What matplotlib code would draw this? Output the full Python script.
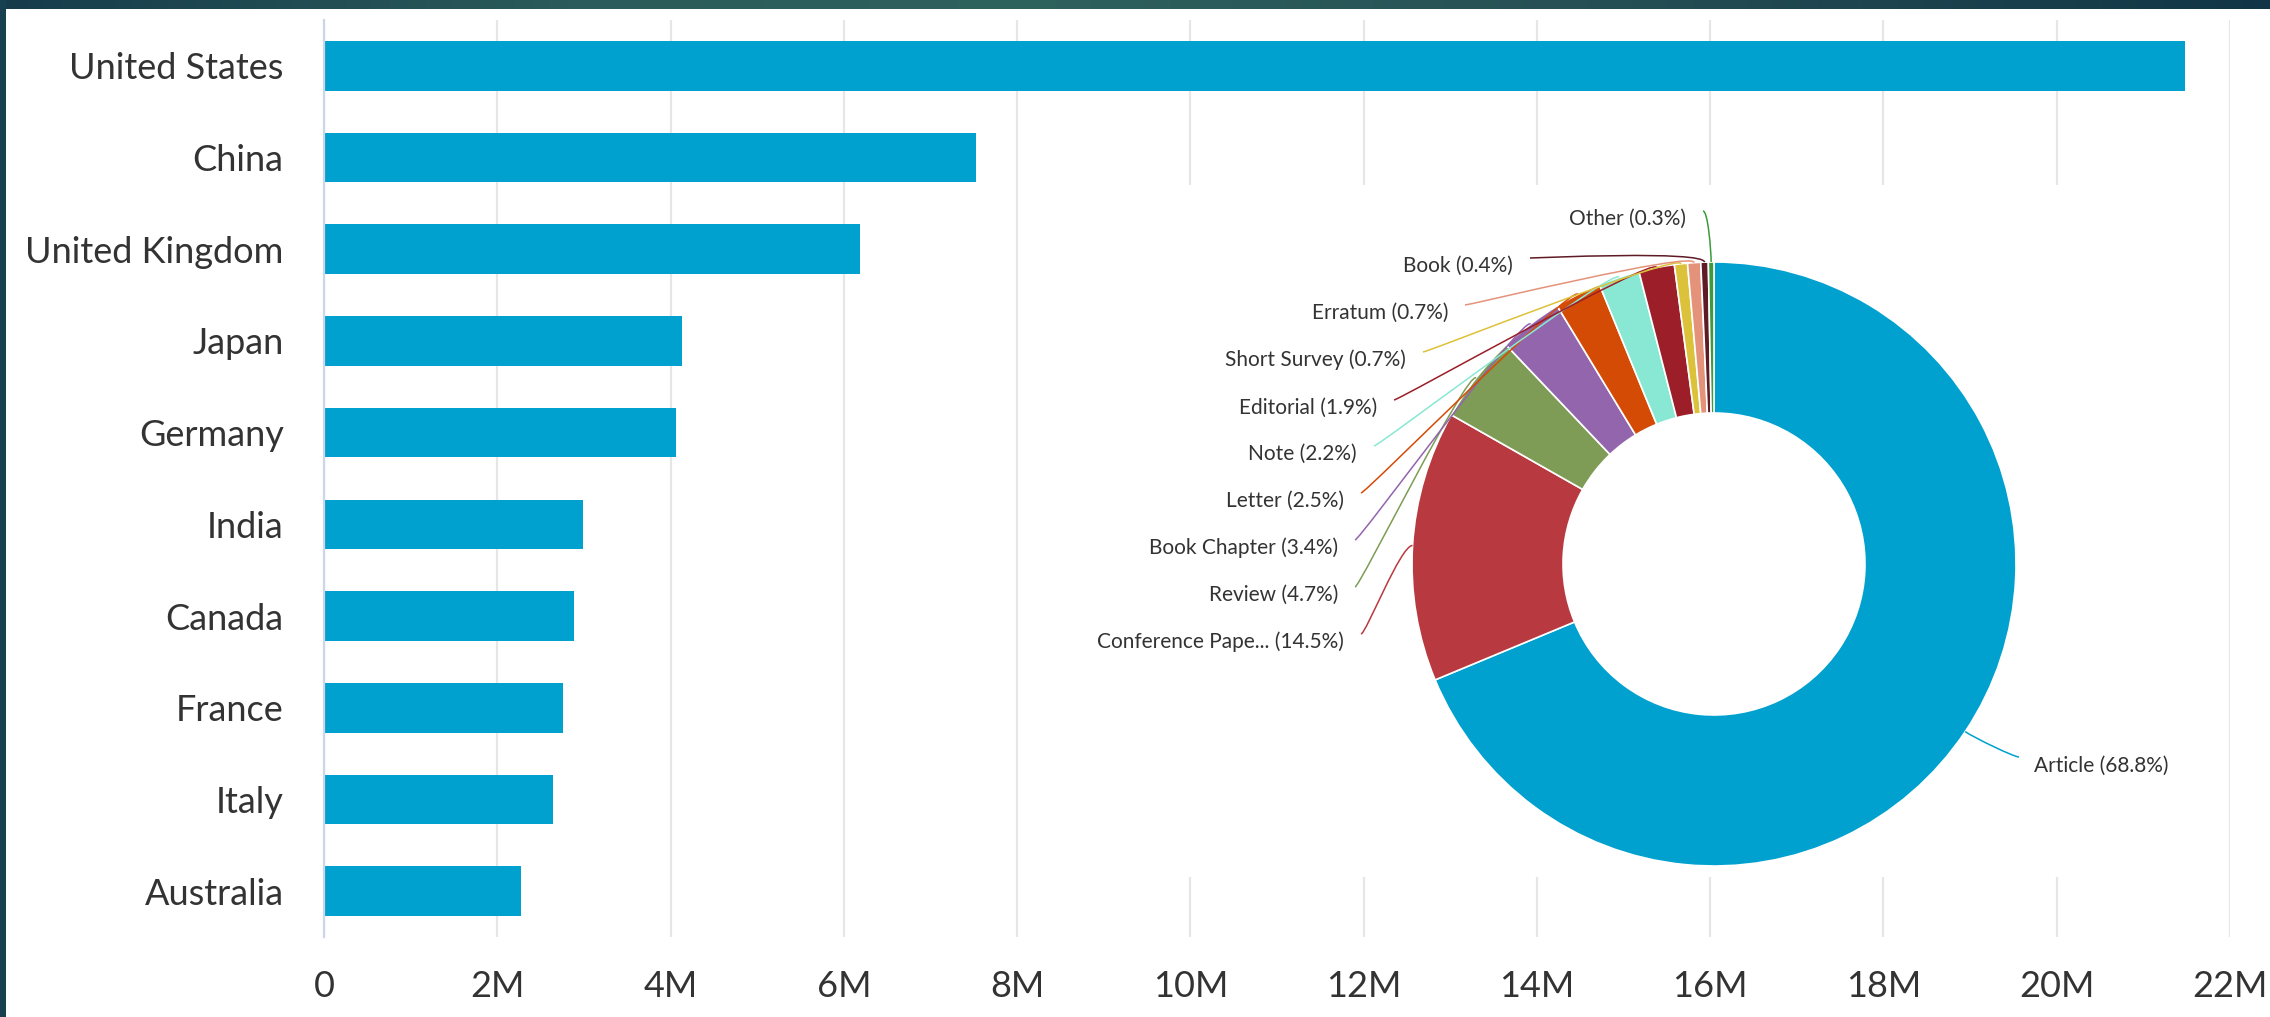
import numpy as np
import matplotlib.pyplot as plt
from matplotlib.patches import Rectangle, PathPatch
from matplotlib.path import Path
from matplotlib.colors import LinearSegmentedColormap
from matplotlib.ticker import FuncFormatter

plt.rcParams['font.family'] = ['Lato', 'DejaVu Sans']

# --- data -------------------------------------------------------------
countries = ['United States', 'China', 'United Kingdom', 'Japan', 'Germany',
             'India', 'Canada', 'France', 'Italy', 'Australia']
documents = [21.48e6, 7.52e6, 6.19e6, 4.13e6, 4.06e6,
             2.99e6, 2.89e6, 2.76e6, 2.64e6, 2.27e6]

doc_types = ['Article', 'Conference Pape...', 'Review', 'Book Chapter', 'Letter',
             'Note', 'Editorial', 'Short Survey', 'Erratum', 'Book', 'Other']
doc_shares = [68.8, 14.5, 4.7, 3.4, 2.5, 2.2, 1.9, 0.7, 0.7, 0.4, 0.3]

x_ticks = np.arange(0, 22e6 + 1, 2e6)

# --- style / layout ---------------------------------------------------
BLUE = '#00a0cf'
TEXT = '#333333'
doc_colors = [BLUE, '#b83a40', '#7e9c55', '#9365ad', '#d44b05', '#88e8d4',
              '#9b1e28', '#dcc23a', '#e4937a', '#5e1b25', '#3c9a3c']

W, H = 2270, 1017
# label connector start points (pixels, y from top)
label_anchor = [(2019, 757), (1361, 634), (1355, 587), (1355, 540), (1361, 493),
                (1374, 446), (1394, 400), (1423, 352), (1465, 305), (1530, 258),
                (1703, 211)]

fig = plt.figure(figsize=(W / 100, H / 100), dpi=100)
fig.patch.set_facecolor('white')

# bar chart
ax = fig.add_axes([324 / W, (H - 937) / H, (2230 - 324) / W, (937 - 20) / H])
ypos = np.arange(len(countries))
ax.barh(ypos, documents, height=0.54, color=BLUE, zorder=2)
ax.set_ylim(len(countries) - 0.5, -0.5)
ax.set_xlim(0, 22e6)
ax.set_xticks(x_ticks)
ax.xaxis.set_major_formatter(FuncFormatter(lambda v, p: '0' if v == 0 else f'{v / 1e6:.0f}M'))
ax.set_yticks(ypos)
ax.set_yticklabels(countries)
ax.tick_params(axis='both', length=0, labelsize=26, labelcolor=TEXT)
ax.tick_params(axis='y', pad=29)
ax.tick_params(axis='x', pad=24)
ax.grid(axis='x', color='#e6e6e6', linewidth=1.6)
ax.grid(axis='y', visible=False)
ax.set_axisbelow(True)
for s in ['top', 'right', 'bottom']:
    ax.spines[s].set_visible(False)
ax.spines['left'].set_color('#ccd6eb')
ax.spines['left'].set_linewidth(1.6)

# donut overlay (pixel coordinates)
ov = fig.add_axes([0, 0, 1, 1])
ov.add_patch(Rectangle((1074, H - 877), 2208 - 1074, 877 - 185,
                       facecolor='white', edgecolor='none', zorder=0))
cx, cy, r = 1714, H - 564, 302
wedges, _ = ov.pie(doc_shares, colors=doc_colors, startangle=90, counterclock=False,
                   radius=r, center=(cx, cy), frame=True,
                   wedgeprops=dict(width=r * 0.5, edgecolor='white', linewidth=1.2))
ov.set_aspect('auto')
ov.set_xlim(0, W)
ov.set_ylim(0, H)
ov.axis('off')

for w, name, share, col, (axp, ayp) in zip(wedges, doc_types, doc_shares, doc_colors, label_anchor):
    th = np.deg2rad((w.theta1 + w.theta2) / 2)
    d = np.array([np.cos(th), np.sin(th)])
    c = np.array([cx, cy])
    touch = c + r * d
    a = np.array([axp, H - ayp])
    left_side = a[0] < cx
    # soft connector: leaves the label flat, reaches the slice along its radius
    ctrl1 = a + np.array([5 if left_side else -5, 0])
    ctrl2 = touch + 12 * d
    path = Path([a, ctrl1, ctrl2, touch],
                [Path.MOVETO, Path.CURVE4, Path.CURVE4, Path.CURVE4])
    ov.add_patch(PathPatch(path, facecolor='none', edgecolor=col, linewidth=1.1, zorder=3))
    label = f'{name} ({share}%)'
    if left_side:
        ov.text(a[0] - 17, a[1] - 8, label, ha='right', va='center', fontsize=15, color=TEXT)
    else:
        ov.text(a[0] + 15, a[1] - 9, label, ha='left', va='center', fontsize=15, color=TEXT)

# dark frame: gradient strip on top, solid strip on the left
cmap = LinearSegmentedColormap.from_list('frame', [(0, '#163c4b'), (0.25, '#2b5b5a'), (0.45, '#2e625d'),
                                                   (0.7, '#264f55'), (1, '#113546')])
top = fig.add_axes([0, 1 - 9 / H, 1, 9 / H])
top.imshow(np.linspace(0, 1, 256)[None, :], cmap=cmap, aspect='auto')
top.axis('off')
fig.add_artist(Rectangle((0, 0), 6 / W, 1, transform=fig.transFigure,
                         facecolor='#173f4f', edgecolor='none'))

fig.savefig('out.png', dpi=100)
